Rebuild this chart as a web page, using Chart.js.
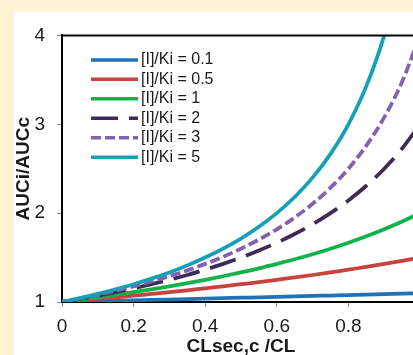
<!DOCTYPE html>
<html>
<head>
<meta charset="utf-8">
<script src="https://cdn.jsdelivr.net/npm/chart.js@4.4.1/dist/chart.umd.min.js"></script>
<style>
  html, body { margin: 0; padding: 0; width: 413px; height: 355px; overflow: hidden; background: #FEF2D4; }
  #panel { position: absolute; left: 14px; top: 12px; width: 416px; height: 343px; background: #fff; }
  #chart { position: absolute; left: 0; top: 0; }
</style>
</head>
<body>
<div id="panel"><canvas id="chart" width="416" height="343"></canvas></div>
<script>
// CLsec,c / CL values (x)
var xs = [0, 0.05, 0.1, 0.15, 0.2, 0.25, 0.3, 0.35, 0.4, 0.45, 0.5, 0.55, 0.6, 0.65, 0.7, 0.75, 0.8, 0.85, 0.9, 0.95, 1.0];

// AUCi/AUCc
var ratio01 = [1, 1.005, 1.009, 1.014, 1.019, 1.023, 1.028, 1.033, 1.038, 1.043, 1.048, 1.053, 1.058, 1.063, 1.068, 1.073, 1.078, 1.084, 1.089, 1.095, 1.1];
var ratio05 = [1, 1.017, 1.034, 1.053, 1.071, 1.091, 1.111, 1.132, 1.154, 1.176, 1.2, 1.224, 1.25, 1.277, 1.304, 1.333, 1.364, 1.395, 1.429, 1.463, 1.5];
var ratio1 = [1, 1.026, 1.053, 1.081, 1.111, 1.143, 1.176, 1.212, 1.25, 1.29, 1.333, 1.379, 1.429, 1.481, 1.538, 1.6, 1.667, 1.739, 1.818, 1.905, 2.0];
var ratio2 = [1, 1.034, 1.071, 1.111, 1.154, 1.2, 1.25, 1.304, 1.364, 1.429, 1.5, 1.579, 1.667, 1.765, 1.875, 2.0, 2.143, 2.308, 2.5, 2.727, 3.0];
var ratio3 = [1, 1.039, 1.081, 1.127, 1.176, 1.231, 1.29, 1.356, 1.429, 1.509, 1.6, 1.702, 1.818, 1.951, 2.105, 2.286, 2.5, 2.759, 3.077, 3.478, 4.0];
var ratio5 = [1, 1.043, 1.091, 1.143, 1.2, 1.263, 1.333, 1.412, 1.5, 1.6, 1.714, 1.846, 2.0, 2.182, 2.4, 2.667, 3.0, 3.429, 4.0, 4.8];

var seriesLabels = ['[I]/Ki = 0.1', '[I]/Ki = 0.5', '[I]/Ki = 1', '[I]/Ki = 2', '[I]/Ki = 3', '[I]/Ki = 5'];
var xTicks = [0, 0.2, 0.4, 0.6, 0.8];
var yTicks = [1, 2, 3, 4];

var seriesValues = [ratio01, ratio05, ratio1, ratio2, ratio3, ratio5];
var colors = ['#1F72B5', '#C8423E', '#12B24B', '#3E2B58', '#8262AA', '#16A0B6'];
var dashes = [[], [], [], [27, 11], [10, 4], []];

function toPoints(vals) {
    return vals.map(function (v, i) { return { x: xs[i], y: v }; });
}

var datasets = seriesValues.map(function (vals, i) {
    return {
        label: seriesLabels[i],
        data: toPoints(vals),
        borderColor: colors[i],
        backgroundColor: colors[i],
        borderWidth: 3.75,
        borderDash: dashes[i],
        borderCapStyle: 'butt',
        pointRadius: 0,
        cubicInterpolationMode: 'monotone',
        clip: 0,
        order: seriesValues.length - i   // last series on top
    };
});

// legend drawn inside the plot, plus the black top frame line
var insideLegend = {
    id: 'insideLegend',
    afterDraw: function (chart) {
        var ctx = chart.ctx, area = chart.chartArea;
        ctx.save();
        ctx.strokeStyle = '#000';
        ctx.lineWidth = 2;
        ctx.beginPath();
        ctx.moveTo(area.left - 1, area.top);
        ctx.lineTo(area.right, area.top);
        ctx.stroke();

        var x0 = area.left + 29, y0 = area.top + 24.5, rowH = 19.45;
        ctx.font = '16px "Liberation Sans", Arial, sans-serif';
        ctx.textBaseline = 'middle';
        ctx.fillStyle = '#1a1a1a';
        chart.data.datasets.forEach(function (ds, i) {
            var y = y0 + i * rowH;
            ctx.strokeStyle = ds.borderColor;
            ctx.lineWidth = 3.5;
            ctx.lineCap = 'butt';
            ctx.setLineDash(ds.borderDash || []);
            ctx.beginPath();
            ctx.moveTo(x0, y);
            ctx.lineTo(x0 + 47, y);
            ctx.stroke();
            ctx.setLineDash([]);
            ctx.fillText(ds.label, x0 + 50, y);
        });
        ctx.restore();
    }
};

new Chart(document.getElementById('chart'), {
    type: 'line',
    data: { datasets: datasets },
    options: {
        responsive: false,
        animation: false,
        layout: { padding: { top: 8, right: 10, left: 0, bottom: 0 } },
        plugins: { legend: { display: false }, tooltip: { enabled: false } },
        scales: {
            x: {
                type: 'linear', min: 0, max: 1,
                afterBuildTicks: function (s) { s.ticks = xTicks.map(function (v) { return { value: v }; }); },
                afterFit: function (s) { s.height = 53; },
                grid: { drawOnChartArea: false, tickLength: 5, tickColor: '#888' },
                border: { color: '#000', width: 2 },
                ticks: { padding: 8.5, color: '#1a1a1a', font: { family: '"Liberation Sans", Arial, sans-serif', size: 19 } },
                title: { display: true, text: 'CLsec,c /CL', color: '#1a1a1a', padding: { top: 0, bottom: 0 },
                    font: { family: '"Liberation Sans", Arial, sans-serif', size: 19, weight: 'bold', lineHeight: 0.9 } }
            },
            y: {
                min: 1, max: 4,
                afterBuildTicks: function (s) { s.ticks = yTicks.map(function (v) { return { value: v }; }); },
                afterFit: function (s) { s.width = 48; },
                grid: { drawOnChartArea: false, tickLength: 5, tickColor: '#888' },
                border: { color: '#000', width: 2 },
                ticks: { padding: 12, color: '#1a1a1a', font: { family: '"Liberation Sans", Arial, sans-serif', size: 19 } },
                title: { display: true, text: 'AUCi/AUCc', color: '#1a1a1a', padding: { top: 0, bottom: 0 },
                    font: { family: '"Liberation Sans", Arial, sans-serif', size: 19, weight: 'bold', lineHeight: 1 } }
            }
        }
    },
    plugins: [insideLegend]
});
</script>
</body>
</html>
